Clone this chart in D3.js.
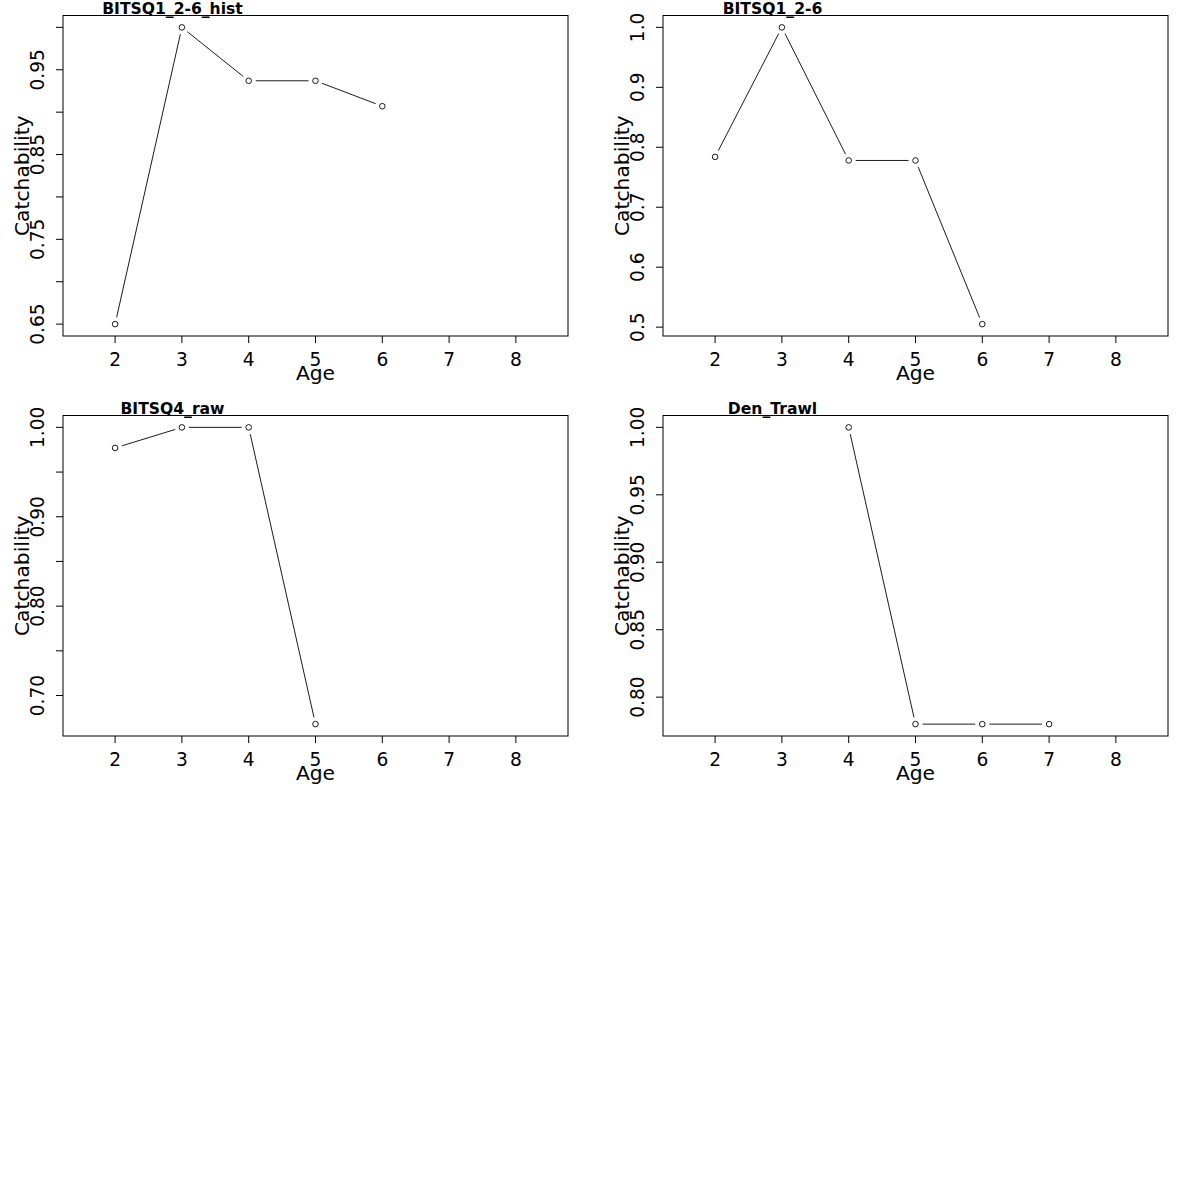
<!DOCTYPE html>
<html>
<head>
<meta charset="utf-8">
<script src="https://cdn.jsdelivr.net/npm/d3@7"></script>
<style>
  body { margin: 0; background: #fff; }
  text { font-family: 'DejaVu Sans', sans-serif; }
</style>
</head>
<body>
<svg id="chart" width="1200" height="1200"></svg>
<script>
// survey names, one panel each
const surveys = ['BITSQ1_2-6_hist', 'BITSQ1_2-6', 'BITSQ4_raw', 'Den_Trawl']

// ages and catchability per survey
const ages1 = [2, 3, 4, 5, 6]
const catch1 = [0.65, 1.0, 0.937, 0.937, 0.907]
const ages2 = [2, 3, 4, 5, 6]
const catch2 = [0.784, 1.0, 0.778, 0.778, 0.505]
const ages3 = [2, 3, 4, 5]
const catch3 = [0.977, 1.0, 1.0, 0.668]
const ages4 = [4, 5, 6, 7]
const catch4 = [1.0, 0.78, 0.78, 0.78]

// axis ticks
const xTicks = [2, 3, 4, 5, 6, 7, 8]
const yTicks1 = [0.65, 0.70, 0.75, 0.80, 0.85, 0.90, 0.95, 1.00]
const yLabels1 = ['0.65', '', '0.75', '', '0.85', '', '0.95', '']
const yTicks2 = [0.5, 0.6, 0.7, 0.8, 0.9, 1.0]
const yLabels2 = ['0.5', '0.6', '0.7', '0.8', '0.9', '1.0']
const yTicks3 = [0.70, 0.75, 0.80, 0.85, 0.90, 0.95, 1.00]
const yLabels3 = ['0.70', '', '0.80', '', '0.90', '', '1.00']
const yTicks4 = [0.80, 0.85, 0.90, 0.95, 1.00]
const yLabels4 = ['0.80', '0.85', '0.90', '0.95', '1.00']

const panels = [
  {name: surveys[0], ages: ages1, q: catch1, yTicks: yTicks1, yLabels: yLabels1},
  {name: surveys[1], ages: ages2, q: catch2, yTicks: yTicks2, yLabels: yLabels2},
  {name: surveys[2], ages: ages3, q: catch3, yTicks: yTicks3, yLabels: yLabels3},
  {name: surveys[3], ages: ages4, q: catch4, yTicks: yTicks4, yLabels: yLabels4}
]

// R style axis extension (4% each side)
function rExtend (lo, hi) {
  let d = (hi - lo) * 0.04
  return [lo - d, hi + d]
}

const svg = d3.select('#chart')
const panelW = 600
const panelH = 400
const box = {l: 63, r: 568, t: 15.5, b: 336}
const tickSize = 18.6
const labSize = 20.3
const tickLen = 7
const gap = 7

panels.forEach(function (p, i) {
  let g = svg.append('g')
    .attr('transform', 'translate(' + (i % 2) * panelW + ',' + Math.floor(i / 2) * panelH + ')')

  let x = d3.scaleLinear().domain(rExtend(1.5, 8.5)).range([box.l, box.r])
  let y = d3.scaleLinear().domain(rExtend(d3.min(p.q), d3.max(p.q))).range([box.b, box.t])

  // plot box
  g.append('rect')
    .attr('x', box.l)
    .attr('y', box.t)
    .attr('width', box.r - box.l)
    .attr('height', box.b - box.t)
    .attr('fill', 'none')
    .attr('stroke', '#000')
    .attr('stroke-width', 1)

  // x axis
  g.selectAll('.xtick').data(xTicks).enter().append('line')
    .attr('x1', d => x(d))
    .attr('x2', d => x(d))
    .attr('y1', box.b)
    .attr('y2', box.b + tickLen)
    .attr('stroke', '#000')
  g.selectAll('.xlab').data(xTicks).enter().append('text')
    .text(d => d)
    .attr('x', d => x(d))
    .attr('y', 365.5)
    .attr('text-anchor', 'middle')
    .style('font-size', tickSize + 'px')
  g.append('text')
    .text('Age')
    .attr('x', (box.l + box.r) / 2)
    .attr('y', 380)
    .attr('text-anchor', 'middle')
    .style('font-size', labSize + 'px')

  // y axis
  g.selectAll('.ytick').data(p.yTicks).enter().append('line')
    .attr('x1', box.l - tickLen)
    .attr('x2', box.l)
    .attr('y1', d => y(d))
    .attr('y2', d => y(d))
    .attr('stroke', '#000')
  g.selectAll('.ylab').data(p.yTicks).enter().append('text')
    .text((d, j) => p.yLabels[j])
    .attr('transform', d => 'translate(44,' + y(d) + ') rotate(-90)')
    .attr('text-anchor', 'middle')
    .style('font-size', tickSize + 'px')
  g.append('text')
    .text('Catchability')
    .attr('transform', 'translate(28.5,' + (box.t + box.b) / 2 + ') rotate(-90)')
    .attr('text-anchor', 'middle')
    .style('font-size', labSize + 'px')

  // title
  g.append('text')
    .text(p.name)
    .attr('x', 172.5)
    .attr('y', 13.5)
    .attr('text-anchor', 'middle')
    .style('font-size', '15.6px')
    .style('font-weight', 'bold')

  // type = "b": segments with gaps round the points
  let pts = p.ages.map((a, j) => [x(a), y(p.q[j])])
  for (let j = 0; j < pts.length - 1; j++) {
    let a = pts[j]
    let b = pts[j + 1]
    let dx = b[0] - a[0]
    let dy = b[1] - a[1]
    let len = Math.sqrt(dx * dx + dy * dy)
    if (len <= 2 * gap) continue
    let ux = dx / len
    let uy = dy / len
    g.append('line')
      .attr('x1', a[0] + ux * gap)
      .attr('y1', a[1] + uy * gap)
      .attr('x2', b[0] - ux * gap)
      .attr('y2', b[1] - uy * gap)
      .attr('stroke', '#000')
      .attr('stroke-width', 0.9)
  }
  g.selectAll('.pt').data(pts).enter().append('circle')
    .attr('cx', d => d[0])
    .attr('cy', d => d[1])
    .attr('r', 2.8)
    .attr('fill', 'none')
    .attr('stroke', '#000')
    .attr('stroke-width', 0.9)
})
</script>
</body>
</html>
